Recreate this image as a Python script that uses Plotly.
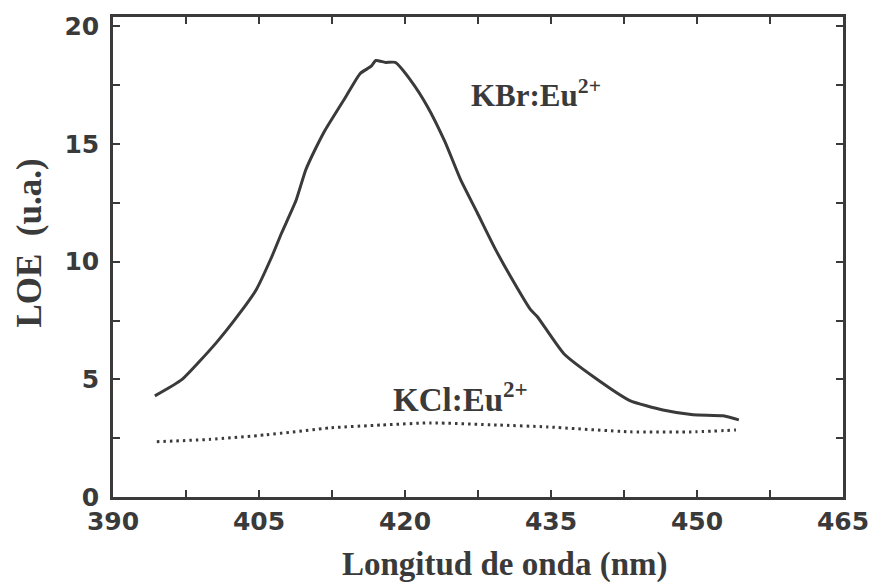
import plotly.graph_objects as go

# KBr:Eu2+ emission (solid)
kbr_x = [394.3, 397.1, 400.6, 403.0, 404.7, 406.3, 407.3, 408.8, 409.8, 410.8, 411.8, 413.9,
         415.4, 416.5, 417.0, 418.0, 419.0, 420.6, 422.3, 424.1, 425.7, 427.4, 429.2, 430.8,
         432.9, 433.6, 436.3, 439.4, 443.1, 446.5, 449.6, 452.7, 454.3]
kbr_y = [4.3, 5.0, 6.55, 7.8, 8.8, 10.2, 11.2, 12.6, 13.9, 14.8, 15.6, 17.0,
         18.0, 18.3, 18.55, 18.47, 18.47, 17.7, 16.6, 15.1, 13.5, 12.1, 10.6, 9.4,
         7.96, 7.66, 6.1, 5.1, 4.1, 3.7, 3.5, 3.45, 3.28]

# KCl:Eu2+ emission (dotted)
kcl_x = [394.5, 400.0, 405.7, 412.4, 417.6, 422.7, 429.5, 434.6, 443.1, 449.9, 454.0]
kcl_y = [2.35, 2.45, 2.64, 2.94, 3.06, 3.15, 3.06, 2.98, 2.77, 2.77, 2.85]

x_ticks = [390, 397.5, 405, 412.5, 420, 427.5, 435, 442.5, 450, 457.5, 465]
x_labels = ["390", "", "405", "", "420", "", "435", "", "450", "", "465"]
y_ticks = [0, 2.5, 5, 7.5, 10, 12.5, 15, 17.5, 20]
y_labels = ["0", "", "5", "", "10", "", "15", "", "20"]

ink = "#3a3a3a"
serif = "Liberation Serif, Times New Roman, serif"
sans = "DejaVu Sans, Arial, sans-serif"

L, R, T, B = 113, 33, 17, 87
W, H = 881, 584
pw, ph = W - L - R, H - T - B


def px(xp):
    return (xp - L) / pw


def py(yp):
    return (H - B - yp) / ph


def bold(lst):
    return ["<b>%s</b>" % s if s else "" for s in lst]


fig = go.Figure()
fig.add_trace(go.Scatter(x=kbr_x, y=kbr_y, mode="lines",
                         line=dict(color=ink, width=3, shape="spline", smoothing=0.5),
                         showlegend=False))
fig.add_trace(go.Scatter(x=kcl_x, y=kcl_y, mode="lines",
                         line=dict(color=ink, width=3, dash="2.5px,4px", shape="spline",
                                   smoothing=0.5),
                         showlegend=False))

fig.add_annotation(x=px(471), y=py(93), xref="paper", yref="paper", xanchor="left",
                   yanchor="middle", text="<b>KBr:Eu<sup>2+</sup></b>", showarrow=False,
                   font=dict(family=serif, size=31, color=ink))
fig.add_annotation(x=px(393), y=py(397), xref="paper", yref="paper", xanchor="left",
                   yanchor="middle", text="<b>KCl:Eu<sup>2+</sup></b>", showarrow=False,
                   font=dict(family=serif, size=33, color=ink))
fig.add_annotation(x=px(508), y=py(564), xref="paper", yref="paper", xanchor="center",
                   yanchor="middle", text="<b>Longitud de onda (nm)</b>", showarrow=False,
                   font=dict(family=serif, size=33, color=ink))
fig.add_annotation(x=px(28), y=py(243), xref="paper", yref="paper", xanchor="center",
                   yanchor="middle", text="<b>LOE  (u.a.)</b>", showarrow=False,
                   textangle=-90, font=dict(family=serif, size=35, color=ink))

fig.update_layout(
    width=W, height=H,
    margin=dict(l=L, r=R, t=T, b=B),
    paper_bgcolor="white", plot_bgcolor="white",
    xaxis=dict(range=[390, 465], tickvals=x_ticks, ticktext=bold(x_labels),
               ticks="inside", ticklen=7, tickwidth=2, tickcolor=ink,
               showline=True, linewidth=2.5, linecolor=ink, mirror="ticks",
               showgrid=False, zeroline=False, ticklabelstandoff=0,
               tickfont=dict(family=sans, size=25, color=ink, weight="bold")),
    yaxis=dict(range=[0, 20.4], tickvals=y_ticks, ticktext=bold(y_labels),
               ticks="inside", ticklen=7, tickwidth=2, tickcolor=ink,
               showline=True, linewidth=2.5, linecolor=ink, mirror="ticks",
               showgrid=False, zeroline=False, ticklabelstandoff=6,
               tickfont=dict(family=sans, size=25, color=ink, weight="bold")),
)

fig.write_html("out.html")
